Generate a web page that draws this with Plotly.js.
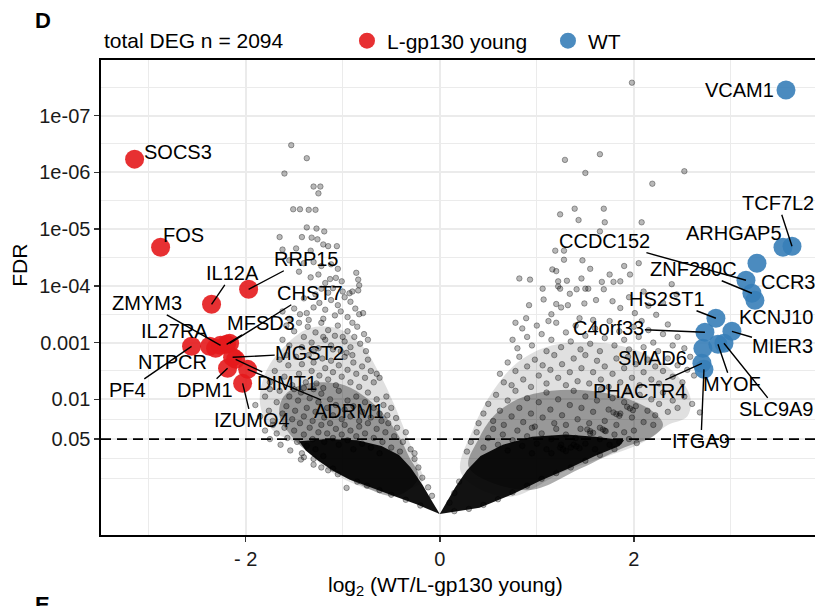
<!DOCTYPE html>
<html>
<head>
<meta charset="utf-8">
<script src="https://cdn.plot.ly/plotly-3.0.1.min.js"></script>
<style>html,body{margin:0;padding:0;background:#fff;overflow:hidden}#chart{width:815px;height:606px}</style>
</head>
<body>
<div id="chart"></div>
<script>
// ---------- highlighted genes (log2FC, -log10 FDR) ----------
var redGenes = ['SOCS3','FOS','IL12A','RRP15','PF4','NTPCR','IL27RA','ZMYM3','MFSD3','CHST7','MGST2','DIMT1','DPM1','ADRM1','IZUMO4'];
var redX = [-3.144,-2.876,-2.351,-1.969,-2.557,-2.371,-2.309,-2.258,-2.196,-2.165,-2.134,-2.103,-2.186,-1.979,-2.031];
var redY = [6.233,4.681,3.675,3.940,2.935,2.935,2.900,2.952,2.970,2.988,2.741,2.705,2.547,2.529,2.282];
var redLabX = [-2.701,-2.639,-2.134,-1.381,-3.216,-2.753,-2.732,-3.021,-1.845,-1.340,-1.340,-1.577,-2.423,-0.938,-1.938];
var redLabY = [6.356,4.892,4.222,4.469,2.159,2.653,3.199,3.693,3.340,3.870,2.811,2.282,2.159,1.788,1.630];
var redSeg = [0,0,1,1,1,0,0,1,1,1,1,1,1,1,1];

var blueGenes = ['VCAM1','TCF7L2','ARHGAP5','CCR3','CCDC152','ZNF280C','KCNJ10','HS2ST1','C4orf33','MIER3','SMAD6','MYOF','SLC9A9','PHACTR4','ITGA9'];
var blueX = [3.567,3.629,3.536,3.268,3.155,3.216,3.247,2.845,2.732,3.010,2.711,2.866,2.928,2.701,2.722];
var blueY = [7.450,4.698,4.681,4.399,4.099,3.870,3.746,3.429,3.182,3.199,2.899,2.970,2.988,2.635,2.529];
var blueLabX = [3.093,3.485,3.031,3.588,1.701,2.619,3.464,2.340,1.742,3.536,2.191,3.007,3.474,2.062,2.691];
var blueLabY = [7.450,5.457,4.928,4.063,4.787,4.293,3.446,3.764,3.252,2.935,2.723,2.265,1.824,2.141,1.259];
var blueSeg = [0,1,0,0,1,1,0,1,1,1,0,1,1,1,1];

// ---------- axis ticks ----------
var yTickVals = [1.301,2,3,4,5,6,7];
var yTickText = ['0.05','0.01','0.001','1e-04','1e-05','1e-06','1e-07'];
var yMinorVals = [0.602,0.951,1.651,2.5,3.5,4.5,5.5,6.5,7.5];
var xTickVals = [-2,0,2];
var xTickText = ['- 2','0','2'];
var xMinorVals = [-3,-1,1,3];
var fdrThreshold = 1.301; // -log10(0.05)

// ---------- background gene cloud ----------
var cloudLeftX = [
 -1.53,-1.37,-1.60,-1.30,-1.23,-1.25,-1.51,-1.44,-1.35,-1.28,-1.37,-1.27,-1.19,-1.65,-1.42,-1.32,-1.26,-1.20,-1.15,-1.06,-1.62,-1.48,-1.33,
 -1.40,-1.30,-1.22,-1.12,-1.05,-0.86,-0.84,-0.83,-0.84,-1.13,-1.07,-1.01,-1.10,-1.00,-0.93,-1.25,-1.18,-1.33,-1.45,-1.55,
 -1.62,-1.50,-1.44,-1.37,-1.30,-1.24,-1.18,-1.12,-1.05,-0.98,-0.92,-0.87,-0.79,-0.83,-1.08,-1.20,-1.28,-1.15,-1.40,-0.95,-1.02,-1.35,-1.55,-0.90,-1.22,
 -1.58,-1.50,-1.45,-1.40,-1.36,-1.32,-1.28,-1.25,-1.22,-1.18,-1.15,-1.12,-1.08,-1.05,-1.02,-0.98,-0.95,-0.92,-0.88,-0.85,-0.82,-0.78,-0.76,-0.74,-1.30,-1.42,-1.55,-1.62,-1.10,-0.96,-1.20,-1.00,-0.90,
 -1.75,-1.70,-1.65,-1.60,-1.56,-1.52,-1.48,-1.45,-1.42,-1.38,-1.35,-1.32,-1.30,-1.27,-1.24,-1.21,-1.18,-1.15,-1.12,-1.10,-1.07,-1.04,-1.01,-0.98,-0.95,-0.92,-0.89,-0.86,-0.83,-0.80,-0.77,-0.74,-0.71,-0.68,-0.65,-0.62,-1.58,-1.40,-1.20,-0.90,
 -1.90,-1.85,-1.80,-1.76,-1.72,-1.68,-1.65,-1.62,-1.58,-1.55,-1.52,-1.49,-1.46,-1.43,-1.40,-1.37,-1.34,-1.31,-1.28,-1.25,-1.22,-1.19,-1.16,-1.13,-1.10,-1.07,-1.04,-1.01,-0.98,-0.95,-0.92,-0.89,-0.86,-0.83,-0.80,-0.77,-0.74,-0.71,-0.68,-0.65,-0.62,-0.58,-0.54,-0.50,-0.45,-0.55,-0.60,-1.75,-1.50,-1.30,
 -1.80,-1.75,-1.72,-1.68,-1.64,-1.60,-1.57,-1.54,-1.50,-1.47,-1.44,-1.42,-1.40,-1.37,-1.34,-1.31,-1.28,-1.25,-1.22,-1.19,-1.16,-1.13,-1.10,-1.07,-1.04,-1.01,-0.98,-0.95,-0.92,-0.89,-0.86,-0.83,-0.80,-0.77,-0.74,-0.71,-0.68,-0.65,-0.62,-0.59,-0.56,-0.53,-0.50,-0.47,-0.44,-0.41,-0.38,-0.35,-0.30,-0.26,-1.43,-1.30,-1.20,
 -1.30,-1.22,-1.15,-1.05,-0.96,-0.85,-0.75,-0.62,-0.50,-0.35,-0.20,-0.26,-0.22,-0.18,-0.12,-0.08,-1.40,-1.10
];
var cloudLeftY = [
 6.48,6.25,5.98,5.75,5.75,5.63,5.35,5.35,5.34,5.34,5.03,5.01,4.96,4.86,4.86,4.85,4.82,4.73,4.70,4.70,4.64,4.66,4.62,
 4.40,4.42,4.35,4.38,4.30,4.23,4.11,4.01,3.92,4.12,4.14,4.08,3.96,3.90,3.87,4.20,4.05,4.15,4.25,4.45,
 3.55,3.60,3.50,3.52,3.62,3.70,3.58,3.75,3.66,3.80,3.72,3.60,3.52,3.50,3.48,3.42,3.85,3.88,3.78,3.45,3.55,3.40,3.42,3.90,3.95,
 3.30,3.20,3.35,3.10,3.28,3.00,3.18,2.90,3.35,3.05,3.22,2.95,3.12,3.30,2.85,3.02,3.20,2.92,3.10,3.28,2.98,3.15,2.85,3.05,2.85,2.92,2.95,3.05,2.88,2.82,3.10,3.10,3.35,
 2.30,2.50,2.70,2.40,2.60,2.25,2.75,2.45,2.62,2.30,2.78,2.50,2.65,2.28,2.42,2.72,2.55,2.35,2.68,2.48,2.25,2.60,2.40,2.75,2.52,2.30,2.65,2.45,2.22,2.58,2.38,2.70,2.50,2.30,2.45,2.38,2.78,2.20,2.20,2.78,
 1.90,1.70,2.05,1.80,1.62,1.95,2.15,1.75,1.88,2.05,1.65,1.80,1.98,2.12,1.70,1.85,2.02,1.62,1.78,1.95,2.10,1.68,1.85,2.00,1.72,1.90,2.15,1.65,1.82,1.98,1.70,1.88,2.05,1.62,1.78,1.95,2.12,1.68,1.85,2.00,1.75,1.90,1.72,1.85,1.67,2.05,1.62,2.18,2.18,2.18,
 1.45,1.30,1.55,1.40,1.20,1.50,1.32,1.10,1.45,1.25,1.58,1.05,1.38,1.18,1.50,1.30,1.12,1.42,1.55,1.25,1.40,1.58,1.32,1.48,1.20,1.38,1.55,1.28,1.45,1.12,1.35,1.52,1.22,1.40,1.58,1.15,1.32,1.48,1.05,1.25,1.42,1.58,1.15,1.35,1.50,1.08,1.25,1.42,1.12,1.05,0.94,0.95,1.00,
 0.85,0.80,0.75,0.68,0.44,0.55,0.48,0.40,0.32,0.23,0.13,0.95,0.80,0.62,0.45,0.30,0.98,0.78
];
var cloudRightX = [
 1.98,1.65,1.29,1.50,2.52,2.19,1.39,1.69,1.24,1.43,1.70,2.08,1.65,1.19,1.28,1.28,1.47,1.16,1.20,0.82,0.93,1.22,1.31,1.46,1.67,1.79,1.06,1.22,1.24,1.41,1.50,1.53,1.69,1.34,1.07,1.20,1.25,1.32,1.49,1.61,1.78,0.92,0.89,1.15,1.44,
 1.96,1.86,2.39,2.44,2.01,2.23,1.86,2.10,1.95,2.30,2.15,1.90,1.55,1.75,2.05,
 0.75,0.80,0.85,0.90,0.95,1.00,1.05,1.10,1.15,1.20,1.25,1.30,1.35,1.40,1.45,1.50,1.55,1.60,1.65,1.70,1.75,1.80,1.85,1.90,1.95,2.00,2.05,2.10,2.15,2.20,2.25,2.30,2.35,2.40,2.45,2.52,1.12,1.58,0.78,2.08,
 0.62,0.66,0.70,0.74,0.78,0.82,0.86,0.90,0.94,0.98,1.02,1.06,1.10,1.14,1.18,1.22,1.26,1.30,1.34,1.38,1.42,1.46,1.50,1.54,1.58,1.62,1.66,1.70,1.74,1.78,1.82,1.86,1.90,1.94,1.98,2.02,2.06,2.10,2.14,2.18,2.22,2.26,2.30,2.35,2.40,2.45,2.50,2.55,2.62,2.58,
 0.40,0.45,0.50,0.55,0.58,0.62,0.66,0.70,0.74,0.78,0.82,0.86,0.90,0.94,0.98,1.02,1.06,1.10,1.14,1.18,1.22,1.26,1.30,1.34,1.38,1.42,1.46,1.50,1.54,1.58,1.62,1.66,1.70,1.74,1.78,1.82,1.86,1.90,1.94,1.98,2.02,2.06,2.10,2.14,2.18,2.22,2.26,2.30,2.35,2.40,2.45,2.52,2.60,2.68,2.20,
 0.28,0.32,0.38,0.45,0.50,0.55,0.60,0.65,0.70,0.75,0.80,0.85,0.90,0.95,1.00,1.05,1.10,1.15,1.20,1.25,1.30,1.35,1.40,1.45,1.50,1.55,1.60,1.65,1.70,1.75,1.80,1.85,1.90,1.95,2.03,2.00,1.15,0.95,
 1.80,1.65,1.50,1.35,1.20,1.05,0.90,0.75,0.60,0.45,0.30,0.15,0.20,0.15,0.10,
 1.24,1.27,1.30,1.38,1.41,1.44,1.52,1.55,1.58,1.65,1.68,1.71,1.79,1.82,1.85,1.93,1.96,1.99
];
var cloudRightY = [
 7.58,6.32,6.22,5.99,6.02,5.80,5.36,5.36,5.26,5.16,5.12,5.12,4.96,4.62,4.62,4.46,4.45,4.29,4.26,4.13,4.11,4.08,4.09,4.13,4.07,4.07,3.95,3.99,3.95,3.94,3.95,3.95,3.94,3.86,3.76,3.68,3.62,3.66,3.69,3.75,3.73,3.66,3.43,3.50,3.43,
 4.20,4.08,4.03,3.85,3.52,3.49,3.61,3.90,3.80,3.70,3.65,4.35,4.30,4.20,4.40,
 3.05,2.90,3.25,3.10,2.95,3.30,3.15,2.85,3.05,3.35,2.92,3.18,3.02,3.30,2.88,3.12,2.98,3.25,2.85,3.08,3.38,2.95,3.20,3.05,2.88,3.28,3.10,2.92,3.22,3.00,2.85,3.15,3.32,2.95,3.10,2.90,3.38,3.40,3.35,3.38,
 2.45,2.30,2.65,2.25,2.50,2.75,2.35,2.58,2.22,2.70,2.42,2.60,2.28,2.52,2.78,2.38,2.62,2.25,2.48,2.72,2.32,2.55,2.78,2.28,2.48,2.68,2.35,2.58,2.22,2.45,2.72,2.30,2.55,2.75,2.38,2.62,2.25,2.48,2.70,2.35,2.58,2.28,2.50,2.72,2.40,2.60,2.30,2.52,2.42,2.75,
 1.58,1.75,1.92,1.62,2.08,1.80,1.55,1.98,1.70,2.15,1.85,1.60,2.02,1.75,1.52,1.95,1.68,2.12,1.82,1.58,2.00,1.72,1.55,1.90,2.15,1.65,1.85,2.05,1.58,1.78,1.98,2.18,1.62,1.82,2.02,1.55,1.75,1.95,2.15,1.68,1.88,2.08,1.60,1.80,2.00,1.72,1.92,2.12,1.78,1.98,1.85,2.05,1.92,1.77,1.55,
 1.08,1.25,1.42,1.15,1.32,1.48,1.20,1.38,1.10,1.28,1.45,1.18,1.35,1.50,1.22,1.40,1.12,1.30,1.48,1.20,1.38,1.15,1.32,1.48,1.22,1.40,1.12,1.30,1.45,1.20,1.38,1.25,1.42,1.30,1.23,1.45,1.05,1.05,
 1.12,1.02,0.92,0.80,0.70,0.60,0.48,0.36,0.24,0.14,0.07,0.03,0.55,0.35,0.18,
 1.15,1.12,1.09,1.20,1.17,1.14,1.47,1.44,1.41,1.50,1.47,1.44,1.77,1.74,1.71,1.87,1.84,1.81
];
// outlines of the saturated core and of the two density halos of each arm
var coreLeftX = [0,-0.24,-0.48,-0.72,-0.93,-1.10,-1.25,-1.38,-1.45,-1.15,-0.85,-0.60,-0.42,-0.30,-0.18,-0.07,0];
var coreLeftY = [-0.02,0.15,0.30,0.45,0.59,0.74,0.92,1.10,1.26,1.30,1.28,1.18,1.02,0.80,0.50,0.18,-0.02];
var haloLeft1X = [-0.93,-1.25,-1.50,-1.65,-1.62,-1.48,-1.25,-0.98,-0.75,-0.56,-0.42,-0.32,-0.22,-0.45,-0.93];
var haloLeft1Y = [0.59,0.92,1.30,1.70,2.02,2.22,2.30,2.25,2.02,1.70,1.35,1.00,0.62,0.30,0.59];
var haloLeft2X = [-1.45,-1.72,-1.85,-1.80,-1.62,-1.35,-1.05,-0.80,-0.62,-0.48,-0.36,-0.26,-0.18,-0.60,-1.10,-1.45];
var haloLeft2Y = [1.20,1.45,1.90,2.45,2.90,3.25,3.25,2.95,2.45,1.95,1.45,1.00,0.55,0.38,0.70,1.20];
var coreRightX = [0,0.41,0.75,1.03,1.34,1.60,1.85,1.90,1.60,1.30,0.95,0.65,0.42,0.28,0.16,0.06,0];
var coreRightY = [-0.02,0.09,0.33,0.56,0.79,1.00,1.18,1.28,1.34,1.38,1.34,1.20,1.00,0.75,0.45,0.15,-0.02];
var haloRight1X = [0.30,0.40,0.55,0.80,1.15,1.55,1.95,2.22,2.30,2.20,1.90,1.45,0.90,0.30];
var haloRight1Y = [0.80,1.30,1.70,2.00,2.15,2.15,2.00,1.75,1.55,1.35,1.15,0.78,0.40,0.80];
var haloRight2X = [0.22,0.35,0.55,0.80,1.15,1.60,2.05,2.40,2.58,2.55,2.35,2.10,1.30,0.70,0.22];
var haloRight2Y = [0.70,1.50,2.15,2.65,2.95,3.00,2.85,2.50,2.05,1.70,1.55,1.25,0.74,0.28,0.70];

var FONT = 'Liberation Sans, Arial, Helvetica, sans-serif';
var RED = 'rgba(228,26,28,0.9)';
var BLUE = 'rgba(55,126,184,0.9)';

function poly(x, y, color, smooth) {
  return {x: x, y: y, type: 'scatter', mode: 'lines', fill: 'toself', fillcolor: color,
          line: {width: 0, shape: smooth ? 'spline' : 'linear', smoothing: 1}, hoverinfo: 'skip', showlegend: false};
}
function cloud(x, y) {
  return {x: x, y: y, type: 'scatter', mode: 'markers', hoverinfo: 'skip', showlegend: false,
          marker: {size: 5.5, color: 'rgba(0,0,0,0.28)', line: {color: 'rgba(0,0,0,0.42)', width: 0.8}}};
}
var traces = [
  poly(haloLeft2X, haloLeft2Y, 'rgba(0,0,0,0.12)', true),
  poly(haloRight2X, haloRight2Y, 'rgba(0,0,0,0.12)', true),
  poly(haloLeft1X, haloLeft1Y, 'rgba(0,0,0,0.32)', true),
  poly(haloRight1X, haloRight1Y, 'rgba(0,0,0,0.32)', true),
  poly(coreLeftX, coreLeftY, 'rgba(0,0,0,0.93)', false),
  poly(coreRightX, coreRightY, 'rgba(0,0,0,0.93)', false),
  cloud(cloudLeftX, cloudLeftY),
  cloud(cloudRightX, cloudRightY),
  {x: redX, y: redY, text: redGenes, type: 'scatter', mode: 'markers', name: 'L-gp130 young',
   marker: {size: 19, color: RED, line: {width: 0}}, hoverinfo: 'text'},
  {x: blueX, y: blueY, text: blueGenes, type: 'scatter', mode: 'markers', name: 'WT',
   marker: {size: 19, color: BLUE, line: {width: 0}}, hoverinfo: 'text'}
];

function labels(genes, px, py, lx, ly, seg) {
  var out = [];
  for (var i = 0; i < genes.length; i++) {
    var f = {family: FONT, size: 20, color: '#000'};
    if (seg[i]) {
      out.push({xref: 'x', yref: 'y', axref: 'x', ayref: 'y', x: px[i], y: py[i], ax: lx[i], ay: ly[i],
        text: genes[i], showarrow: true, arrowhead: 0, arrowwidth: 1.4, arrowcolor: '#000',
        standoff: 0, startstandoff: 0, font: f, borderpad: 0});
    } else {
      out.push({xref: 'x', yref: 'y', x: lx[i], y: ly[i], text: genes[i], showarrow: false, font: f, borderpad: 0});
    }
  }
  return out;
}

var annotations = labels(redGenes, redX, redY, redLabX, redLabY, redSeg)
  .concat(labels(blueGenes, blueX, blueY, blueLabX, blueLabY, blueSeg))
  .concat([
    {xref: 'paper', yref: 'paper', x: -0.0952, y: 1.084, xanchor: 'left', yanchor: 'middle', showarrow: false,
     text: '<b>D</b>', font: {family: FONT, size: 22, color: '#000'}},
    {xref: 'paper', yref: 'paper', x: -0.0952, y: -0.147, xanchor: 'left', yanchor: 'middle', showarrow: false,
     text: '<b>E</b>', font: {family: FONT, size: 22, color: '#000'}},
    {xref: 'paper', yref: 'paper', x: 0.0014, y: 1.04, xanchor: 'left', yanchor: 'middle', showarrow: false,
     text: 'total DEG n = 2094', font: {family: FONT, size: 21, color: '#000'}},
    {xref: 'paper', yref: 'paper', x: 0.483, y: -0.107, xanchor: 'center', yanchor: 'middle', showarrow: false,
     text: 'log<sub>2</sub> (WT/L-gp130 young)', font: {family: FONT, size: 21, color: '#000'}},
    {xref: 'paper', yref: 'paper', x: -0.114, y: 0.568, xanchor: 'center', yanchor: 'middle', showarrow: false,
     textangle: -90, text: 'FDR', font: {family: FONT, size: 21, color: '#000'}}
  ]);

var layout = {
  width: 815, height: 606,
  margin: {l: 101, r: 0, t: 60, b: 71, pad: 0},
  paper_bgcolor: '#fff', plot_bgcolor: '#fff',
  font: {family: FONT, color: '#000'},
  showlegend: true,
  legend: {orientation: 'h', x: 0.3445, xanchor: 'left', y: 1.04, yanchor: 'middle', entrywidth: 156,
           font: {family: FONT, size: 21, color: '#000'}, bgcolor: 'rgba(0,0,0,0)', itemwidth: 30},
  xaxis: {range: [-3.49, 3.866], tickmode: 'array', tickvals: xTickVals, ticktext: xTickText,
          ticks: 'outside', ticklen: 5, tickwidth: 1.5, tickcolor: '#333',
          tickfont: {family: FONT, size: 20, color: '#1a1a1a'},
          showline: true, linecolor: '#000', linewidth: 1.6, mirror: true,
          showgrid: true, gridcolor: '#ebebeb', gridwidth: 2, zeroline: false,
          minor: {tickmode: 'array', tickvals: xMinorVals, showgrid: true, gridcolor: '#ebebeb', gridwidth: 1, ticks: ''}},
  yaxis: {range: [-0.39, 7.98], tickmode: 'array', tickvals: yTickVals, ticktext: yTickText,
          ticks: 'outside', ticklen: 5, tickwidth: 1.5, tickcolor: '#333',
          tickfont: {family: FONT, size: 20, color: '#1a1a1a'},
          showline: true, linecolor: '#000', linewidth: 1.6, mirror: false,
          showgrid: true, gridcolor: '#ebebeb', gridwidth: 2, zeroline: false,
          minor: {tickmode: 'array', tickvals: yMinorVals, showgrid: true, gridcolor: '#ebebeb', gridwidth: 1, ticks: ''}},
  shapes: [{type: 'line', xref: 'paper', x0: 0, x1: 1, yref: 'y', y0: fdrThreshold, y1: fdrThreshold,
            line: {color: '#000', width: 1.8, dash: '10px,6px'}, layer: 'above'}],
  annotations: annotations
};

Plotly.newPlot('chart', traces, layout, {displayModeBar: false, staticPlot: true});
</script>
</body>
</html>
